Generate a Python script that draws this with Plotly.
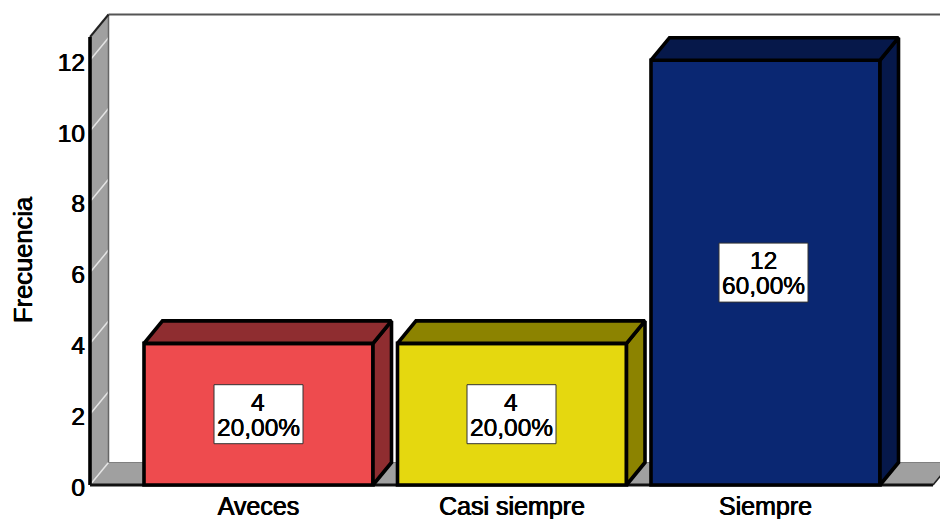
import plotly.graph_objects as go

categories = ["Aveces", "Casi siempre", "Siempre"]
counts = [4, 4, 12]
percents = ["20,00%", "20,00%", "60,00%"]
y_ticks = [0, 2, 4, 6, 8, 10, 12]
front_colors = ["#EE4B4E", "#E5D80F", "#0A2772"]
side_colors = ["#8F2D30", "#8C8300", "#06184A"]
label_offsets = [0, -0.5, -2]

W, H = 940, 519
PITCH, C0 = 253.5, 258.5   # px per category, px of first category
UNIT, Y0 = 35.4, 485       # px per count, px of zero
L, B, T = 86, 488, 12      # plot area limits in px


def xd(px):
    return (px - C0) / PITCH


def yd(px):
    return (Y0 - px) / UNIT


DX, DY = 18.5 / PITCH, 22.5 / UNIT
BAR_W = 229 / PITCH
WALL_X = xd(90)
FLOOR_X = xd(933)
WALL_TOP = yd(37)
FONT = "Liberation Sans, Arial, sans-serif"
BLUR = "0.4px 0 0 #000, -0.4px 0 0 #000"
SOFT = "0.2px 0 0 #000, -0.2px 0 0 #000"
EDGE = 3.6
xs = list(range(len(categories)))

fig = go.Figure()
fig.add_trace(go.Bar(
    x=xs, y=counts, width=BAR_W,
    marker=dict(color=front_colors, line=dict(color="#000000", width=EDGE)),
    showlegend=False, hoverinfo="skip",
))

for i, v in enumerate(counts):
    x0, x1 = i - BAR_W / 2, i + BAR_W / 2
    fig.add_trace(go.Scatter(
        x=[x1, x1 + DX, x1 + DX, x1, x1], y=[0, DY, v + DY, v, 0],
        mode="lines", fill="toself", fillcolor=side_colors[i],
        line=dict(color="#000000", width=EDGE), cliponaxis=False,
        showlegend=False, hoverinfo="skip",
    ))
    fig.add_trace(go.Scatter(
        x=[x0, x0 + DX, x1 + DX, x1, x0], y=[v, v + DY, v + DY, v, v],
        mode="lines", fill="toself", fillcolor=side_colors[i],
        line=dict(color="#000000", width=EDGE), cliponaxis=False,
        showlegend=False, hoverinfo="skip",
    ))

shapes = []
# side wall
shapes.append(dict(type="path", layer="below", xref="x", yref="y",
                   path=f"M{WALL_X},0 L{WALL_X + DX},{DY} L{WALL_X + DX},{WALL_TOP + DY} L{WALL_X},{WALL_TOP} Z",
                   fillcolor="#A0A0A0", line=dict(width=0)))
# floor
shapes.append(dict(type="path", layer="below", xref="x", yref="y",
                   path=f"M{WALL_X},0 L{WALL_X + DX},{DY} L{FLOOR_X + DX},{DY} L{FLOOR_X},0 Z",
                   fillcolor="#A0A0A0", line=dict(width=0)))
# wall grid lines
for t in y_ticks:
    shapes.append(dict(type="line", layer="below", xref="x", yref="y",
                       x0=WALL_X, y0=t, x1=WALL_X + DX, y1=t + DY,
                       line=dict(color="#E4E4E4", width=1.5)))
# back edges
shapes.append(dict(type="line", layer="below", xref="x", yref="y",
                   x0=WALL_X + DX, y0=DY, x1=WALL_X + DX, y1=WALL_TOP + DY,
                   line=dict(color="#666666", width=1.5)))
shapes.append(dict(type="line", layer="below", xref="x", yref="y",
                   x0=WALL_X + DX, y0=DY, x1=FLOOR_X + DX, y1=DY,
                   line=dict(color="#808080", width=1.2)))
shapes.append(dict(type="line", layer="below", xref="x", yref="y",
                   x0=WALL_X + DX, y0=WALL_TOP + DY, x1=FLOOR_X + DX, y1=WALL_TOP + DY,
                   line=dict(color="#555555", width=2)))
# front edges
shapes.append(dict(type="line", layer="below", xref="x", yref="y",
                   x0=WALL_X, y0=WALL_TOP, x1=WALL_X + DX, y1=WALL_TOP + DY,
                   line=dict(color="#222222", width=2)))
shapes.append(dict(type="line", layer="below", xref="x", yref="y",
                   x0=WALL_X, y0=0, x1=WALL_X, y1=WALL_TOP,
                   line=dict(color="#000000", width=EDGE)))
shapes.append(dict(type="line", layer="below", xref="x", yref="y",
                   x0=WALL_X, y0=0, x1=FLOOR_X, y1=0,
                   line=dict(color="#111111", width=3)))
shapes.append(dict(type="line", layer="below", xref="x", yref="y",
                   x0=FLOOR_X, y0=0, x1=FLOOR_X + DX, y1=DY,
                   line=dict(color="#222222", width=1.5)))

annotations = []
for i, v in enumerate(counts):
    off = label_offsets[i]
    # white label box, pixel-sized, centred on the bar
    shapes.append(dict(type="rect", layer="above", xref="x", yref="y",
                       xsizemode="pixel", ysizemode="pixel",
                       xanchor=i, yanchor=v / 2,
                       x0=off - 44.5, x1=off + 44.5, y0=-29.5, y1=29.5,
                       fillcolor="#FFFFFF", line=dict(color="#333333", width=1)))
    annotations.append(dict(x=i, y=v / 2, xref="x", yref="y", text=str(v),
                            showarrow=False, yshift=12, xshift=off - 0.5,
                            font=dict(family=FONT, size=24.5, color="#000000", shadow=SOFT)))
    annotations.append(dict(x=i, y=v / 2, xref="x", yref="y", text=percents[i],
                            showarrow=False, yshift=-13, xshift=off - 0.5,
                            font=dict(family=FONT, size=24.5, color="#000000", shadow=SOFT)))
annotations.append(dict(x=(23 - L) / (W - L), y=(B - 260) / (B - T), xref="paper", yref="paper",
                        text="Frecuencia", textangle=-90, showarrow=False,
                        xanchor="center", yanchor="middle",
                        font=dict(family=FONT, size=25.5, color="#000000", shadow=BLUR)))

fig.update_layout(
    width=W, height=H,
    margin=dict(l=L, r=0, t=T, b=H - B, autoexpand=False),
    paper_bgcolor="#FFFFFF", plot_bgcolor="#FFFFFF",
    showlegend=False, shapes=shapes, annotations=annotations,
    xaxis=dict(range=[xd(L), xd(W)], tickmode="array", tickvals=xs, ticktext=categories,
               showgrid=False, zeroline=False, showline=False,
               ticks="", ticklen=0, ticklabelstandoff=1,
               tickfont=dict(family=FONT, size=25, color="#000000", shadow=BLUR)),
    yaxis=dict(range=[yd(B), yd(T)], tickmode="array", tickvals=y_ticks,
               showgrid=False, zeroline=False, showline=False,
               ticks="", ticklen=0, ticklabelstandoff=0, ticklabelshift=2,
               tickfont=dict(family=FONT, size=24.5, color="#000000", shadow=BLUR)),
)

fig.write_html("out.html", config={"displayModeBar": False},
               post_script="document.body.style.margin='0';document.body.style.overflow='hidden';")
